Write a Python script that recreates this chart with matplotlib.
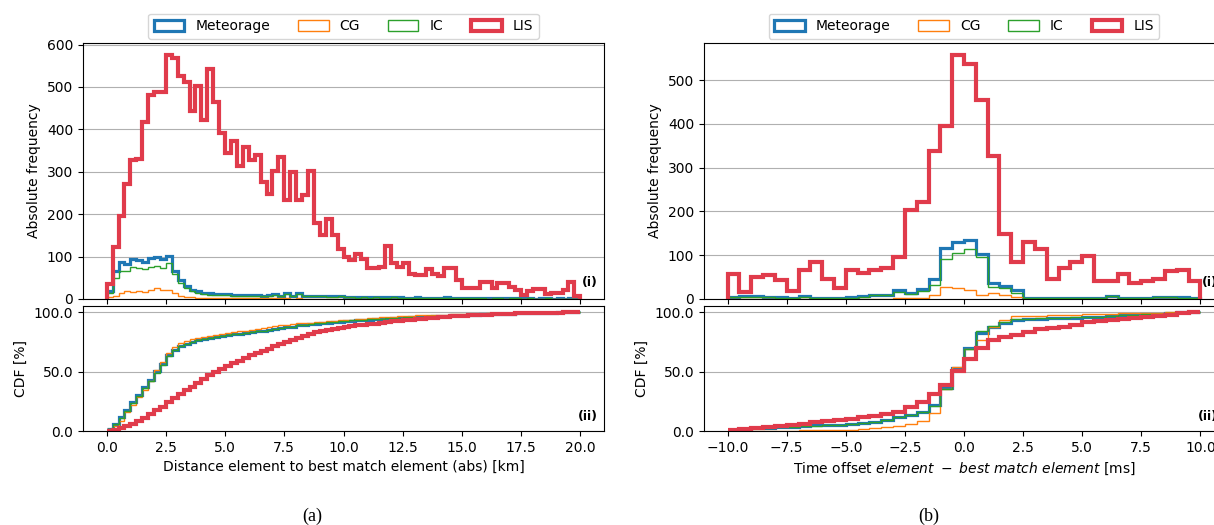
import numpy as np
import matplotlib
matplotlib.use("Agg")
import matplotlib.pyplot as plt
from matplotlib.patches import Patch
from matplotlib.ticker import FormatStrFormatter, FixedLocator

# ---------------------------------------------------------------
# (a) distance element -> best match element, 0..20 km, 0.25 km bins
# ---------------------------------------------------------------
dist_range = (0.0, 20.0)
dist_nbins = 80

dist_meteorage = [20, 65, 88, 82, 95, 93, 88, 97, 100, 94,
                  101, 67, 45, 30, 22, 18, 15, 13, 12, 11,
                  11, 10, 9, 9, 10, 9, 8, 10, 11, 8,
                  14, 8, 14, 7, 7, 8, 7, 6, 6, 7,
                  5, 5, 4, 5, 4, 5, 4, 4, 5, 4,
                  3, 3, 4, 3, 3, 3, 3, 4, 3, 3,
                  3, 2, 3, 2, 2, 3, 2, 2, 2, 2,
                  2, 2, 1, 2, 2, 1, 2, 1, 2, 1]
dist_cg = [4, 8, 13, 20, 17, 20, 16, 21, 25, 21,
           21, 15, 8, 5, 4, 3, 3, 3, 2, 2,
           2, 2, 2, 2, 2, 2, 2, 2, 2, 2,
           2, 1, 2, 1, 1, 1, 1, 1, 1, 1,
           1, 1, 1, 1, 1, 1, 1, 1, 1, 1,
           1, 0, 1, 0, 1, 0, 1, 0, 1, 0,
           0, 1, 0, 0, 1, 0, 0, 1, 0, 0,
           0, 0, 1, 0, 0, 0, 1, 0, 0, 0]
dist_ic = [15, 50, 65, 65, 75, 74, 70, 76, 78, 74,
           84, 58, 38, 25, 18, 15, 12, 10, 10, 9,
           9, 8, 7, 7, 8, 7, 6, 8, 9, 6,
           12, 6, 12, 6, 6, 7, 6, 5, 5, 6,
           4, 4, 3, 4, 3, 4, 3, 3, 4, 3,
           3, 2, 3, 2, 3, 2, 2, 3, 2, 2,
           2, 2, 2, 2, 1, 2, 2, 1, 2, 2,
           1, 2, 1, 1, 2, 1, 1, 1, 1, 1]
dist_lis = [35, 122, 196, 272, 327, 330, 418, 482, 488, 488,
            575, 569, 525, 512, 443, 502, 423, 543, 465, 392,
            345, 372, 313, 359, 328, 340, 276, 247, 302, 335,
            234, 300, 234, 246, 302, 180, 150, 188, 150, 118,
            98, 92, 106, 94, 72, 72, 76, 125, 86, 76,
            86, 59, 56, 56, 71, 60, 54, 72, 72, 45,
            27, 27, 27, 41, 41, 27, 37, 37, 28, 22,
            10, 20, 24, 24, 12, 14, 14, 22, 39, 8]

# ---------------------------------------------------------------
# (b) time offset element - best match element, -10..10 ms, 0.5 ms bins
# ---------------------------------------------------------------
time_range = (-10.0, 10.0)
time_nbins = 40

time_meteorage = [5, 6, 6, 5, 4, 3, 6, 3, 2, 3,
                  4, 6, 9, 10, 20, 14, 22, 45, 117, 130,
                  134, 103, 36, 30, 20, 3, 3, 3, 3, 3,
                  3, 3, 7, 3, 2, 3, 5, 5, 4, 2]
time_cg = [0, 0, 0, 0, 0, 0, 1, 0, 0, 0,
           0, 1, 1, 1, 2, 2, 3, 9, 27, 25,
           20, 10, 14, 8, 4, 1, 0, 1, 0, 0,
           1, 0, 0, 1, 0, 0, 0, 1, 0, 0]
time_ic = [4, 5, 5, 4, 3, 2, 5, 2, 2, 2,
           3, 5, 8, 9, 16, 12, 18, 32, 92, 104,
           115, 96, 28, 26, 13, 2, 2, 2, 2, 2,
           2, 2, 6, 2, 2, 2, 4, 4, 3, 2]
time_lis = [58, 17, 51, 55, 43, 19, 66, 85, 45, 26,
            66, 60, 67, 70, 95, 204, 221, 339, 395, 557,
            538, 455, 327, 149, 84, 130, 115, 45, 70, 85,
            99, 41, 41, 56, 36, 42, 46, 65, 66, 42]

series_names = ["Meteorage", "CG", "IC", "LIS"]
series_style = {
    "Meteorage": dict(color="#1f77b4", linewidth=2.3),
    "CG": dict(color="#ff7f0e", linewidth=1.0),
    "IC": dict(color="#2ca02c", linewidth=1.0),
    "LIS": dict(color="#e03b4b", linewidth=3.0),
}

plt.rcParams["font.family"] = ["DejaVu Sans"]
plt.rcParams["font.size"] = 10

fig = plt.figure(figsize=(12.14, 5.25), dpi=100)


def draw_panel(left, width, value_range, nbins, counts, xlabel):
    edges = np.linspace(value_range[0], value_range[1], nbins + 1)
    span = value_range[1] - value_range[0]
    xlim = (value_range[0] - 0.05 * span, value_range[1] + 0.05 * span)

    ax_h = fig.add_axes([left, 0.4305, width, 0.4876])
    ax_c = fig.add_axes([left, 0.179, width, 0.238], sharex=ax_h)

    handles = []
    for name in series_names:
        vals = np.asarray(counts[name], dtype=float)
        st = series_style[name]
        ax_h.stairs(vals, edges, baseline=0, fill=False,
                    color=st["color"], linewidth=st["linewidth"])
        cdf = 100.0 * np.cumsum(vals) / vals.sum()
        ax_c.stairs(cdf, edges, baseline=None, fill=False,
                    color=st["color"], linewidth=st["linewidth"])
        handles.append(Patch(facecolor="none", edgecolor=st["color"],
                             linewidth=st["linewidth"], label=name))

    ax_h.set_xlim(*xlim)
    ax_h.set_ylim(bottom=0)
    ax_c.set_ylim(0, 105)

    for ax in (ax_h, ax_c):
        ax.set_axisbelow(True)
        ax.grid(axis="y", color="#b0b0b0", linewidth=0.8)
        ax.tick_params(labelsize=10)

    ax_h.tick_params(labelbottom=False)
    ax_h.set_ylabel("Absolute frequency", fontsize=10)
    ax_c.set_ylabel("CDF [%]", fontsize=10)
    ax_c.yaxis.set_major_locator(FixedLocator([0, 50, 100]))
    ax_c.yaxis.set_major_formatter(FormatStrFormatter("%.1f"))
    ax_c.set_xlabel(xlabel, fontsize=10)

    ax_h.legend(handles=handles, loc="lower center",
                bbox_to_anchor=(0.5, 1.0), ncol=4, fontsize=10,
                borderaxespad=0.3, columnspacing=2.0, handlelength=2.2,
                handleheight=0.8)

    ax_h.text(0.988, 0.066, "(i)", transform=ax_h.transAxes, ha="right",
              va="center", fontsize=9, fontweight="bold")
    ax_c.text(0.988, 0.12, "(ii)", transform=ax_c.transAxes, ha="right",
              va="center", fontsize=9, fontweight="bold")
    return ax_h, ax_c


draw_panel(83 / 1214, 521 / 1214, dist_range, dist_nbins,
           {"Meteorage": dist_meteorage, "CG": dist_cg,
            "IC": dist_ic, "LIS": dist_lis},
           "Distance element to best match element (abs) [km]")

draw_panel(704 / 1214, 520 / 1214, time_range, time_nbins,
           {"Meteorage": time_meteorage, "CG": time_cg,
            "IC": time_ic, "LIS": time_lis},
           r"Time offset $element\ -\ best\ match\ element$ [ms]")

fig.text(312 / 1214, 1 - 516 / 525, "(a)", ha="center", va="center",
         family=["Liberation Serif", "DejaVu Serif"], fontsize=13)
fig.text(929 / 1214, 1 - 516 / 525, "(b)", ha="center", va="center",
         family=["Liberation Serif", "DejaVu Serif"], fontsize=13)

fig.savefig("out.png", dpi=100)
